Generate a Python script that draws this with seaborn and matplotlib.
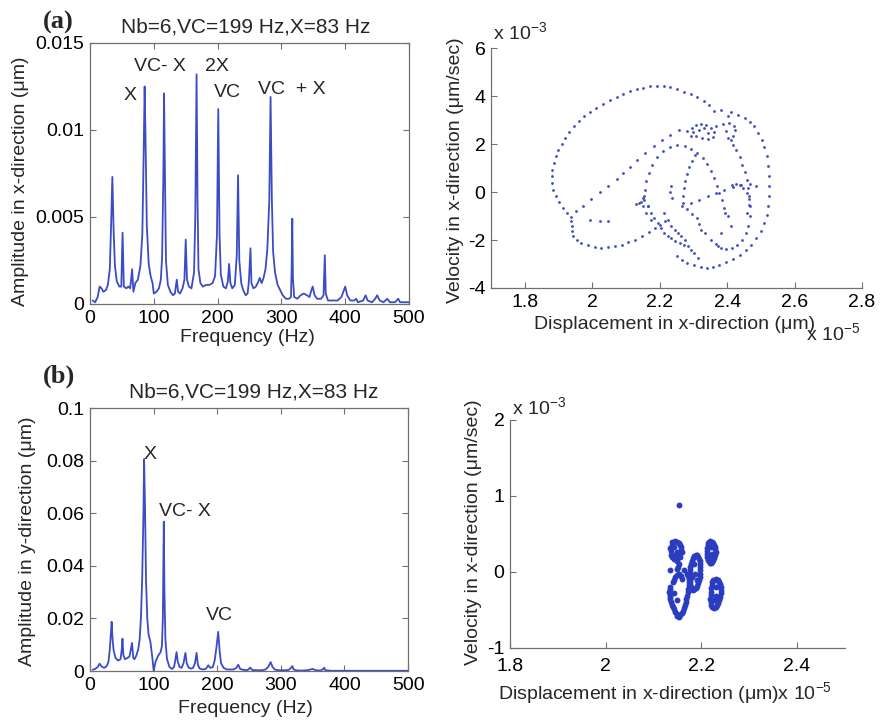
import matplotlib
matplotlib.use("Agg")
import matplotlib.pyplot as plt
import seaborn as sns
import pandas as pd
from matplotlib.ticker import FuncFormatter

# ---- (a) spectrum, x-direction ----
freq_a = [4, 8, 12, 15, 18, 21, 25, 28, 31, 33,
          35, 37, 39, 42, 46, 49, 51, 53, 57, 60,
          63, 66, 68, 71, 75, 79, 82, 84, 85.6, 87,
          89, 92, 95, 98, 100, 104, 108, 111, 113, 115,
          116, 117.5, 119, 122, 126, 130, 133, 136, 138, 141,
          145, 148, 150, 152, 155, 159, 163, 165, 167, 168.5,
          170, 173, 177, 182, 187, 192, 196, 199, 201, 203,
          205, 209, 213, 216, 218, 220, 223, 227, 230, 232,
          234, 237, 240, 244, 247, 249, 251.5, 253, 256, 260,
          264, 266, 269, 272, 275, 278, 281, 283, 285, 287,
          290, 294, 298, 302, 307, 312, 315, 316, 317, 318,
          320, 325, 330, 335, 340, 344, 347, 349, 352, 356,
          362, 366, 368, 369.5, 373, 380, 388, 394, 398, 400,
          403, 408, 414, 417, 420, 428, 432, 435, 442, 447,
          450, 454, 460, 466, 470, 478, 483, 486, 492, 500]
amp_a = [0.0002, 0.0001, 0.0004, 0.0010, 0.0009, 0.0007, 0.0008, 0.0011, 0.0020, 0.0045,
         0.0073, 0.0042, 0.0022, 0.0013, 0.0010, 0.0010, 0.0041, 0.0010, 0.0009, 0.0010,
         0.0009, 0.0020, 0.0007, 0.0012, 0.0014, 0.0022, 0.0040, 0.0085, 0.0125, 0.0095,
         0.0045, 0.0023, 0.0016, 0.0012, 0.0006, 0.0007, 0.0009, 0.0014, 0.0027, 0.0075,
         0.0121, 0.0075, 0.0025, 0.0011, 0.0007, 0.0005, 0.0006, 0.0014, 0.0007, 0.0006,
         0.0009, 0.0014, 0.0037, 0.0014, 0.0010, 0.0009, 0.0018, 0.0050, 0.0132, 0.0060,
         0.0020, 0.0012, 0.0010, 0.0011, 0.0011, 0.0012, 0.0016, 0.0040, 0.0112, 0.0040,
         0.0017, 0.0010, 0.0009, 0.0013, 0.0023, 0.0012, 0.0009, 0.0011, 0.0028, 0.0074,
         0.0025, 0.0012, 0.0008, 0.0005, 0.0006, 0.0013, 0.0032, 0.0012, 0.0009, 0.0010,
         0.0013, 0.0015, 0.0012, 0.0015, 0.0020, 0.0032, 0.0060, 0.0119, 0.0060, 0.0030,
         0.0018, 0.0011, 0.0008, 0.0005, 0.0003, 0.0003, 0.0004, 0.0020, 0.0049, 0.0015,
         0.0004, 0.0003, 0.0005, 0.0006, 0.0005, 0.0004, 0.0008, 0.0010, 0.0005, 0.0003,
         0.0003, 0.0005, 0.0028, 0.0006, 0.0002, 0.0002, 0.0002, 0.0004, 0.0008, 0.0010,
         0.0005, 0.0002, 0.0002, 0.0003, 0.0001, 0.0002, 0.0005, 0.0002, 0.0001, 0.0003,
         0.0005, 0.0002, 0.0001, 0.0003, 0.0001, 0.0001, 0.0003, 0.0001, 0.0001, 0.0001]

# ---- (b) spectrum, y-direction ----
freq_b = [4, 8, 12, 15, 18, 22, 26, 29, 31, 33,
          34, 35.5, 37, 40, 44, 48, 50, 51, 52.5, 55,
          59, 62, 64, 66, 68, 70, 73, 76, 78, 80,
          82, 84, 85, 86.5, 88, 90, 92, 95, 98, 100,
          103, 107, 111, 113, 114.5, 115.5, 116, 117, 118.5, 121,
          125, 129, 132, 134, 136, 138, 141, 144, 147, 150,
          152, 155, 159, 162, 165, 167.5, 169.5, 172, 177, 182,
          186, 189, 193, 196, 199, 201.5, 204, 206, 210, 215,
          220, 226, 230, 233, 236, 242, 248, 252, 255, 262,
          270, 276, 280, 284, 287, 291, 298, 305, 312, 316,
          318, 320, 326, 335, 342, 350, 355, 362, 366, 368,
          370, 380, 400, 420, 450, 480, 500]
amp_b = [0.0005, 0.0008, 0.0015, 0.0028, 0.0018, 0.0012, 0.0018, 0.0035, 0.0080, 0.0150,
         0.0187, 0.0120, 0.0080, 0.0050, 0.0040, 0.0045, 0.0085, 0.0123, 0.0060, 0.0045,
         0.0050, 0.0055, 0.0080, 0.0107, 0.0050, 0.0045, 0.0060, 0.0085, 0.0120, 0.0200,
         0.0350, 0.0600, 0.0806, 0.0620, 0.0350, 0.0200, 0.0140, 0.0110, 0.0050, 0.0002,
         0.0035, 0.0058, 0.0072, 0.0095, 0.0200, 0.0450, 0.0568, 0.0300, 0.0120, 0.0045,
         0.0015, 0.0008, 0.0015, 0.0040, 0.0072, 0.0035, 0.0015, 0.0012, 0.0030, 0.0069,
         0.0030, 0.0013, 0.0009, 0.0012, 0.0030, 0.0069, 0.0025, 0.0010, 0.0006, 0.0008,
         0.0022, 0.0012, 0.0015, 0.0040, 0.0095, 0.0149, 0.0070, 0.0030, 0.0012, 0.0006,
         0.0006, 0.0006, 0.0012, 0.0024, 0.0008, 0.0004, 0.0004, 0.0013, 0.0004, 0.0003,
         0.0003, 0.0006, 0.0015, 0.0034, 0.0015, 0.0005, 0.0003, 0.0003, 0.0004, 0.0012,
         0.0019, 0.0006, 0.0002, 0.0002, 0.0003, 0.0008, 0.0003, 0.0002, 0.0006, 0.0013,
         0.0003, 0.0001, 0.0001, 0.0001, 0.0001, 0.0001, 0.0001]

# ---- (a) phase portrait: displacement (x1e-5 um), velocity (x1e-3 um/s) ----
outer_top_x = [1.880, 1.882, 1.887, 1.892, 1.900, 1.909, 1.920, 1.932, 1.947, 1.962, 1.977,
               1.994, 2.012, 2.032, 2.052, 2.072, 2.092, 2.112, 2.132, 2.152, 2.172,
               2.192, 2.212, 2.232, 2.252, 2.272, 2.292, 2.312, 2.332, 2.347, 2.360]
outer_top_y = [0.65, 0.93, 1.21, 1.49, 1.76, 2.01, 2.25, 2.49, 2.74, 2.94, 3.15,
               3.33, 3.50, 3.67, 3.82, 3.96, 4.08, 4.19, 4.28, 4.35, 4.40,
               4.42, 4.40, 4.36, 4.29, 4.18, 4.07, 3.94, 3.79, 3.64, 3.36]
outer_right_x = [2.412, 2.432, 2.452, 2.467, 2.480, 2.492, 2.502, 2.510, 2.517, 2.520, 2.524,
                 2.524, 2.524, 2.522, 2.517, 2.510, 2.500, 2.487, 2.472, 2.457, 2.437,
                 2.417, 2.397, 2.377, 2.357, 2.340, 2.322, 2.302, 2.282, 2.267, 2.252,
                 2.382, 2.402]
outer_right_y = [3.32, 3.22, 3.08, 2.90, 2.74, 2.46, 2.18, 1.88, 1.49, 1.07, 0.65,
                 0.24, -0.18, -0.60, -0.94, -1.29, -1.64, -1.92, -2.19, -2.40, -2.61,
                 -2.78, -2.92, -3.03, -3.13, -3.17, -3.13, -3.06, -2.96, -2.82, -2.68,
                 3.43, 3.15]
outer_left_x = [1.880, 1.884, 1.892, 1.902, 1.912, 1.924, 1.937]
outer_left_y = [0.38, 0.10, -0.18, -0.43, -0.67, -0.88, -1.04]
lower_loop_x = [1.937, 1.940, 1.940, 1.944, 1.954, 1.967, 1.987, 2.007, 2.027, 2.047,
                2.067, 2.087, 2.107, 2.127, 2.147, 2.167, 2.187, 2.202, 2.217,
                1.992, 2.022, 2.047]
lower_loop_y = [-1.22, -1.43, -1.64, -1.85, -2.01, -2.13, -2.22, -2.29, -2.32, -2.31,
                -2.26, -2.19, -2.10, -1.99, -1.85, -1.68, -1.50, -1.36, -1.22,
                -1.18, -1.19, -1.19]
chord_x = [1.952, 1.972, 1.997, 2.022, 2.047, 2.072, 2.092, 2.112, 2.132, 2.157, 2.182, 2.207, 2.232, 2.257]
chord_y = [-0.81, -0.60, -0.29, -0.01, 0.26, 0.54, 0.79, 1.04, 1.35, 1.63, 1.93, 2.18, 2.39, 2.57]
inner_arc_x = [2.152, 2.152, 2.155, 2.160, 2.168, 2.178, 2.192, 2.210, 2.230, 2.252, 2.274,
               2.294, 2.312, 2.327, 2.340, 2.352, 2.362, 2.370, 2.377, 2.384, 2.392,
               2.235, 2.232, 2.236]
inner_arc_y = [-0.60, -0.25, 0.10, 0.44, 0.79, 1.14, 1.46, 1.71, 1.86, 1.94, 1.90,
               1.79, 1.63, 1.42, 1.17, 0.89, 0.58, 0.26, -0.04, -0.35, -0.67,
               0.25, 0.00, -0.25]
top_knot_x = [2.297, 2.307, 2.322, 2.337, 2.352, 2.360, 2.357, 2.342, 2.324, 2.309, 2.300,
              2.282, 2.292, 2.317, 2.342, 2.332]
top_knot_y = [2.67, 2.81, 2.85, 2.81, 2.67, 2.49, 2.29, 2.21, 2.24, 2.35, 2.49,
              2.53, 2.32, 2.60, 2.46, 2.67]
right_inner_x = [2.367, 2.387, 2.407, 2.420, 2.424, 2.417, 2.410, 2.417, 2.427, 2.437,
                 2.445, 2.452, 2.458, 2.462, 2.464, 2.464, 2.460, 2.397, 2.402]
right_inner_y = [2.74, 2.85, 2.88, 2.76, 2.57, 2.35, 2.18, 1.97, 1.74, 1.46,
                 1.14, 0.82, 0.51, 0.17, -0.18, -0.53, -0.88, 2.53, 2.25]
cross_x = [2.267, 2.292, 2.317, 2.342, 2.367, 2.392, 2.417, 2.442, 2.467, 2.487,
           2.305, 2.295, 2.287, 2.280, 2.276, 2.273, 2.270, 2.270, 2.280, 2.297, 2.310, 2.316, 2.322]
cross_y = [-0.60, -0.46, -0.32, -0.18, -0.04, 0.10, 0.21, 0.31, 0.35, 0.24,
           1.55, 1.30, 1.05, 0.75, 0.45, 0.15, -0.15, -0.45, -0.70, -0.90, -1.10, -1.35, -1.60]
lower_inner_x = [2.154, 2.164, 2.174, 2.184, 2.194, 2.204, 2.214, 2.224, 2.234, 2.246,
                 2.259, 2.271, 2.284, 2.294, 2.303, 2.313,
                 2.214, 2.224, 2.234, 2.244, 2.254, 2.264, 2.274,
                 2.139, 2.154, 2.164, 2.159, 2.174, 2.130, 2.145]
lower_inner_y = [-0.32, -0.60, -0.88, -1.08, -1.29, -1.50, -1.71, -1.82, -1.92, -2.03,
                 -2.13, -2.20, -2.26, -2.40, -2.54, -2.75,
                 -0.88, -1.15, -1.43, -1.57, -1.71, -1.85, -1.99,
                 -0.46, -0.18, -0.60, -0.88, -1.15, -0.50, -0.40]
lower_right_x = [2.333, 2.353, 2.368, 2.383, 2.398, 2.413, 2.428, 2.443, 2.455, 2.463,
                 2.467, 2.468, 2.465, 2.458, 2.448, 2.438, 2.425, 2.413,
                 2.373, 2.383, 2.393, 2.402, 2.412]
lower_right_y = [-1.71, -1.99, -2.18, -2.33, -2.36, -2.33, -2.20, -1.99, -1.72, -1.43,
                 -1.02, -0.60, -0.30, -0.04, 0.15, 0.31, 0.34, 0.31,
                 -2.26, -1.71, -0.88, -1.01, -1.43]

# ---- (b) phase portrait ----
blob_left_x = [2.1385, 2.1455, 2.1525, 2.157, 2.1595, 2.156, 2.150, 2.143, 2.136, 2.135,
               2.142, 2.149, 2.1455, 2.1525, 2.149, 2.154, 2.1595, 2.1455, 2.140, 2.135,
               2.133, 2.1335, 2.136, 2.140, 2.1455, 2.150, 2.156, 2.1615, 2.166, 2.1685,
               2.1715, 2.1735, 2.174, 2.170, 2.164, 2.134, 2.142, 2.149,
               2.1345, 2.1335, 2.1345, 2.138, 2.143, 2.148, 2.153,
               2.159, 2.164, 2.167, 2.170, 2.1725, 2.174, 2.172,
               2.139, 2.148, 2.155, 2.158, 2.153, 2.146, 2.139, 2.137,
               2.151, 2.157, 2.148, 2.143]
blob_left_y = [0.39, 0.41, 0.38, 0.33, 0.26, 0.20, 0.15, 0.17, 0.23, 0.31,
               0.33, 0.26, 0.22, 0.11, 0.04, -0.02, -0.09, -0.07, -0.13, -0.20,
               -0.26, -0.33, -0.39, -0.46, -0.52, -0.58, -0.57, -0.51, -0.44, -0.35,
               -0.26, -0.17, -0.09, -0.02, 0.02, 0.02, -0.28, -0.37,
               -0.23, -0.30, -0.36, -0.43, -0.49, -0.55, -0.59,
               -0.54, -0.48, -0.40, -0.31, -0.22, -0.13, -0.05,
               0.36, 0.40, 0.36, 0.29, 0.22, 0.18, 0.20, 0.27,
               0.07, -0.05, -0.04, -0.10]
blob_mid_x = [2.1755, 2.177, 2.1805, 2.1855, 2.191, 2.1955, 2.1975, 2.198, 2.1965,
              2.193, 2.188, 2.1825, 2.178, 2.176, 2.184, 2.1875, 2.191, 2.1805,
              2.176, 2.1785, 2.183, 2.188, 2.1935, 2.197, 2.198, 2.1975, 2.195,
              2.1905, 2.185, 2.1795, 2.177, 2.1755]
blob_mid_y = [-0.02, 0.07, 0.15, 0.21, 0.22, 0.17, 0.10, 0.02, -0.07,
              -0.14, -0.21, -0.24, -0.20, -0.12, 0.11, -0.02, -0.11, -0.07,
              0.03, 0.11, 0.18, 0.22, 0.20, 0.14, 0.06, -0.03, -0.11,
              -0.18, -0.23, -0.23, -0.16, -0.07]
blob_ru_x = [2.2135, 2.219, 2.224, 2.2275, 2.2295, 2.227, 2.223, 2.2175, 2.2135, 2.212,
             2.212, 2.220, 2.222, 2.2175,
             2.216, 2.222, 2.226, 2.229, 2.2285, 2.225, 2.220, 2.215, 2.2125, 2.2125, 2.2135]
blob_ru_y = [0.38, 0.41, 0.38, 0.33, 0.26, 0.19, 0.13, 0.12, 0.16, 0.24,
             0.32, 0.33, 0.24, 0.20,
             0.40, 0.40, 0.36, 0.30, 0.22, 0.16, 0.12, 0.14, 0.20, 0.28, 0.35]
blob_rl_x = [2.2245, 2.2315, 2.237, 2.240, 2.240, 2.237, 2.233, 2.226, 2.2205, 2.219,
             2.2205, 2.2225, 2.2295, 2.2315, 2.226,
             2.228, 2.2345, 2.239, 2.2405, 2.239, 2.235, 2.2295, 2.223, 2.2195, 2.2195,
             2.221, 2.223]
blob_rl_y = [-0.11, -0.09, -0.13, -0.20, -0.28, -0.37, -0.44, -0.47, -0.44, -0.35,
             -0.26, -0.17, -0.20, -0.31, -0.37,
             -0.10, -0.11, -0.16, -0.24, -0.33, -0.41, -0.46, -0.46, -0.40, -0.30,
             -0.21, -0.13]
lone_x = [2.1525]
lone_y = [0.88]

blue = "#3b4cc4"
frame = "#707070"

sns.set_style("white")
plt.rcParams['font.family'] = ['Liberation Sans', 'DejaVu Sans']
plt.rcParams['mathtext.default'] = 'regular'
fs = 14

fig = plt.figure(figsize=(8.8, 7.2), dpi=100)
ax1 = fig.add_axes([0.1023, 0.5778, 0.3625, 0.3625])
ax2 = fig.add_axes([0.558, 0.60, 0.4216, 0.3333])
ax3 = fig.add_axes([0.1023, 0.068, 0.3614, 0.3653])
ax4 = fig.add_axes([0.5795, 0.10, 0.3807, 0.3167])

gfmt = FuncFormatter(lambda v, p: f"{v:g}")


def style(ax, box):
    for side, sp in ax.spines.items():
        sp.set_color(frame)
        sp.set_linewidth(0.9)
        if not box and side in ("top", "right"):
            sp.set_visible(False)
    ax.tick_params(direction="in", length=4, width=0.8, color=frame,
                   labelsize=fs, labelcolor="black", top=box, right=box,
                   left=True, bottom=True, pad=4)
    ax.xaxis.set_major_formatter(gfmt)
    ax.yaxis.set_major_formatter(gfmt)
    ax.xaxis.label.set_va("center")
    ax.yaxis.label.set_va("center")


# spectrum (a)
spec_a = pd.DataFrame({"f": freq_a, "a": amp_a})
sns.lineplot(data=spec_a, x="f", y="a", ax=ax1, color=blue, lw=1.3, sort=False, estimator=None)
ax1.set_xlim(0, 500)
ax1.set_ylim(0, 0.015)
ax1.set_xticks([0, 100, 200, 300, 400, 500])
ax1.set_yticks([0, 0.005, 0.01, 0.015])
ax1.set_xlabel("Frequency (Hz)", fontsize=fs)
ax1.set_ylabel("Amplitude in x-direction (μm)", fontsize=fs)
style(ax1, True)
ax1.xaxis.set_label_coords(0.495, -0.13)
ax1.yaxis.set_label_coords(-0.219, 0.47)
ax1.text(0.489, 1.061, "Nb=6,VC=199 Hz,X=83 Hz", transform=ax1.transAxes,
         ha="center", va="center", fontsize=15)
for txt, fx, fy in [("X", 62, 0.0120), ("VC- X", 110, 0.01362), ("2X", 199, 0.01362),
                    ("VC", 215, 0.01213), ("VC  + X", 317, 0.0123)]:
    ax1.text(fx, fy, txt, ha="center", va="center", fontsize=fs)

# phase (a)
px_a = (outer_top_x + outer_right_x + outer_left_x + lower_loop_x + chord_x + inner_arc_x
        + top_knot_x + right_inner_x + cross_x + lower_inner_x + lower_right_x)
py_a = (outer_top_y + outer_right_y + outer_left_y + lower_loop_y + chord_y + inner_arc_y
        + top_knot_y + right_inner_y + cross_y + lower_inner_y + lower_right_y)
sns.scatterplot(x=px_a, y=py_a, ax=ax2, color=blue, s=4, linewidth=0)
ax2.set_xlim(1.7, 2.8)
ax2.set_ylim(-4, 6)
ax2.set_xticks([1.8, 2.0, 2.2, 2.4, 2.6, 2.8])
ax2.set_yticks([-4, -2, 0, 2, 4, 6])
ax2.set_xlabel("Displacement in x-direction (μm)", fontsize=fs)
ax2.set_ylabel("Velocity in x-direction (μm/sec)", fontsize=fs)
style(ax2, False)
ax2.xaxis.set_label_coords(0.496, -0.154)
ax2.yaxis.set_label_coords(-0.097, 0.49)
ax2.text(0.005, 1.02, "x 10$^{-3}$", transform=ax2.transAxes, ha="left", va="bottom", fontsize=fs)
ax2.text(0.85, -0.19, "x 10$^{-5}$", transform=ax2.transAxes, ha="left", va="center", fontsize=fs)

# spectrum (b)
spec_b = pd.DataFrame({"f": freq_b, "a": amp_b})
sns.lineplot(data=spec_b, x="f", y="a", ax=ax3, color=blue, lw=1.3, sort=False, estimator=None)
ax3.set_xlim(0, 500)
ax3.set_ylim(0, 0.1)
ax3.set_xticks([0, 100, 200, 300, 400, 500])
ax3.set_yticks([0, 0.02, 0.04, 0.06, 0.08, 0.1])
ax3.set_xlabel("Frequency (Hz)", fontsize=fs)
ax3.set_ylabel("Amplitude in y-direction (μm)", fontsize=fs)
style(ax3, True)
ax3.xaxis.set_label_coords(0.49, -0.141)
ax3.yaxis.set_label_coords(-0.198, 0.494)
ax3.text(0.516, 1.061, "Nb=6,VC=199 Hz,X=83 Hz", transform=ax3.transAxes,
         ha="center", va="center", fontsize=15)
for txt, fx, fy in [("X", 94, 0.0822), ("VC- X", 149, 0.0605), ("VC", 204, 0.0212)]:
    ax3.text(fx, fy, txt, ha="center", va="center", fontsize=fs)

# phase (b)
px_b = blob_left_x + blob_mid_x + blob_ru_x + blob_rl_x + lone_x
py_b = blob_left_y + blob_mid_y + blob_ru_y + blob_rl_y + lone_y
sns.scatterplot(x=px_b, y=py_b, ax=ax4, color="#2a3cc0", s=18, linewidth=0)
ax4.set_xlim(1.8, 2.5)
ax4.set_ylim(-1, 2)
ax4.set_xticks([1.8, 2.0, 2.2, 2.4])
ax4.set_yticks([-1, 0, 1, 2])
ax4.set_xlabel("Displacement in x-direction (μm)x 10$^{-5}$", fontsize=fs)
ax4.set_ylabel("Velocity in x-direction (μm/sec)", fontsize=fs)
style(ax4, False)
ax4.tick_params(axis="x", pad=7)
ax4.xaxis.set_label_coords(0.463, -0.197)
ax4.yaxis.set_label_coords(-0.110, 0.51)
ax4.text(0.006, 1.01, "x 10$^{-3}$", transform=ax4.transAxes, ha="left", va="bottom", fontsize=fs)

fig.text(0.066, 0.969, "(a)", fontsize=19, fontweight="bold", family="Liberation Serif",
         ha="center", va="center")
fig.text(0.067, 0.478, "(b)", fontsize=19, fontweight="bold", family="Liberation Serif",
         ha="center", va="center")

fig.savefig("out.png", dpi=100)
